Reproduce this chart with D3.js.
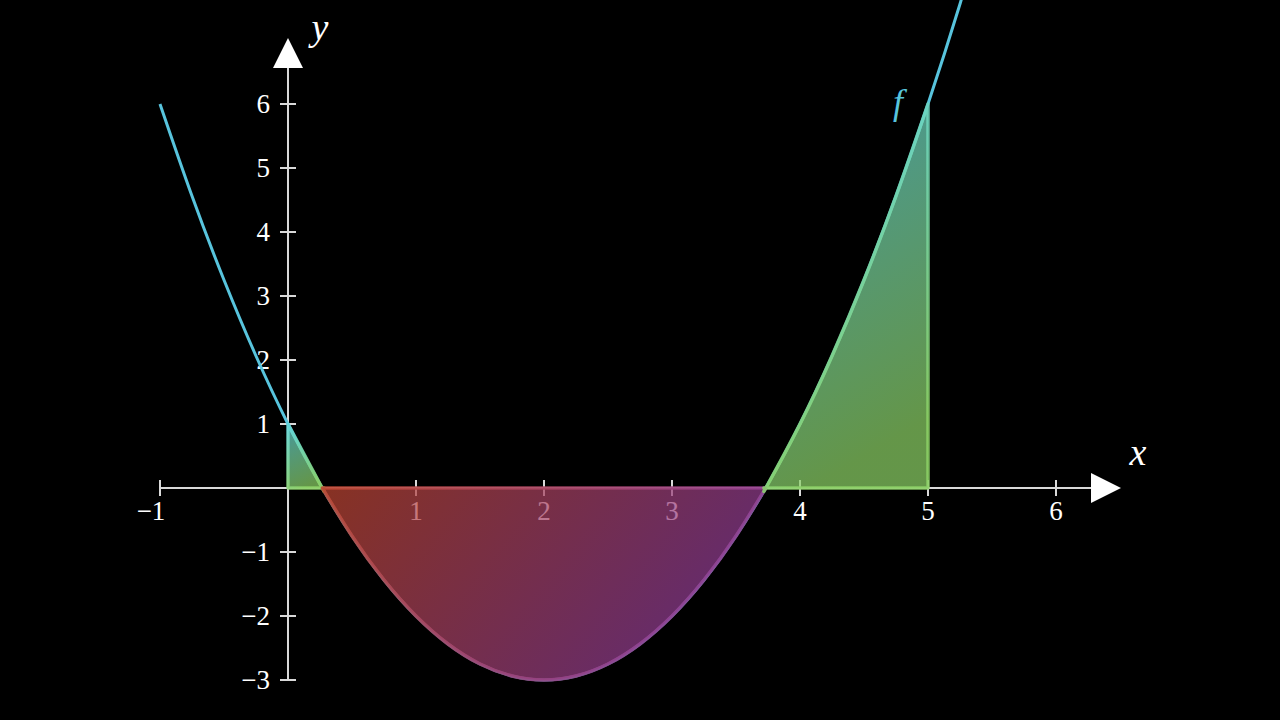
<!DOCTYPE html>
<html>
<head>
<meta charset="utf-8">
<script src="https://cdn.jsdelivr.net/npm/d3@7"></script>
<style>
  html, body { margin: 0; padding: 0; background: #000; }
  svg { display: block; }
</style>
</head>
<body>
<svg id="chart" width="1280" height="720"></svg>
<script>
// ---- data ----
const curveX = [-1, -0.75, -0.5, -0.25, 0, 0.25, 0.5, 0.75, 1, 1.25, 1.5, 1.75, 2, 2.25, 2.5, 2.75, 3, 3.25, 3.5, 3.75, 4, 4.25, 4.5, 4.75, 5, 5.25, 5.5];
const curveY = [6, 4.5625, 3.25, 2.0625, 1, 0.0625, -0.75, -1.4375, -2, -2.4375, -2.75, -2.9375, -3, -2.9375, -2.75, -2.4375, -2, -1.4375, -0.75, 0.0625, 1, 2.0625, 3.25, 4.5625, 6, 7.5625, 9.25];
const roots = [0.268, 3.732];
const areaRange = [0, 5];
const xTicks = [-1, 1, 2, 3, 4, 5, 6];
const yTicks = [-3, -2, -1, 1, 2, 3, 4, 5, 6];
const xTickLabels = ["\u22121", "1", "2", "3", "4", "5", "6"];
const yTickLabels = ["\u22123", "\u22122", "\u22121", "1", "2", "3", "4", "5", "6"];

const svg = d3.select("#chart");
const x = d3.scaleLinear().domain([-1, 6]).range([160, 1056]);
const y = d3.scaleLinear().domain([-3, 6]).range([680, 104]);

const axisColor = "#d9d9d9";
const font = "'Liberation Serif', 'DejaVu Serif', serif";

// gradients
const defs = svg.append("defs");
function grad(id, stops, x2, y2) {
  const g = defs.append("linearGradient").attr("id", id)
    .attr("x1", 0).attr("y1", 0).attr("x2", x2).attr("y2", y2);
  stops.forEach((c, i) => g.append("stop").attr("offset", i / (stops.length - 1)).attr("stop-color", c));
}
grad("posGrad", ["#62d6dc", "#8bd065"], 0.25, 1);
grad("negGrad", ["#bc4530", "#8c3c98"], 1, 0.35);

// ---- axes ----
const ax = svg.append("g");
ax.append("line").attr("x1", x(-1)).attr("x2", 1092).attr("y1", y(0)).attr("y2", y(0))
  .attr("stroke", axisColor).attr("stroke-width", 2);
ax.append("line").attr("x1", x(0)).attr("x2", x(0)).attr("y1", y(-3)).attr("y2", 67)
  .attr("stroke", axisColor).attr("stroke-width", 2);
ax.append("path").attr("d", `M1121,${y(0)} L1091,${y(0) - 15} L1091,${y(0) + 15} Z`).attr("fill", "#fff");
ax.append("path").attr("d", `M${x(0)},38 L${x(0) - 15},68 L${x(0) + 15},68 Z`).attr("fill", "#fff");

ax.selectAll(".xt").data(xTicks).join("line")
  .attr("x1", d => x(d)).attr("x2", d => x(d)).attr("y1", y(0) - 8).attr("y2", y(0) + 8)
  .attr("stroke", axisColor).attr("stroke-width", 2);
ax.selectAll(".yt").data(yTicks).join("line")
  .attr("y1", d => y(d)).attr("y2", d => y(d)).attr("x1", x(0) - 8).attr("x2", x(0) + 8)
  .attr("stroke", axisColor).attr("stroke-width", 2);

ax.selectAll(".xl").data(xTicks).join("text")
  .attr("x", (d, i) => x(d) + (d < 0 ? -9 : 0)).attr("y", y(0) + 32)
  .attr("text-anchor", "middle").attr("fill", "#fff")
  .style("font-family", font).style("font-size", "27px")
  .text((d, i) => xTickLabels[i]);
ax.selectAll(".yl").data(yTicks).join("text")
  .attr("x", x(0) - 18).attr("y", d => y(d) + 9)
  .attr("text-anchor", "end").attr("fill", "#fff")
  .style("font-family", font).style("font-size", "27px")
  .text((d, i) => yTickLabels[i]);

svg.append("text").attr("x", 320).attr("y", 40).attr("text-anchor", "middle")
  .attr("fill", "#fff").style("font-family", font).style("font-style", "italic").style("font-size", "38px").text("y");
svg.append("text").attr("x", 1138).attr("y", 465).attr("text-anchor", "middle")
  .attr("fill", "#fff").style("font-family", font).style("font-style", "italic").style("font-size", "38px").text("x");

// ---- curve (drawn beneath the areas) ----
const pts = curveX.map((d, i) => ({ x: d, y: curveY[i] }));
const line = d3.line().x(d => x(d.x)).y(d => y(d.y)).curve(d3.curveNatural);
svg.append("path").attr("d", line(pts)).attr("fill", "none")
  .attr("stroke", "#58c4dd").attr("stroke-width", 3);

// ---- areas ----
function piece(a, b) {
  const inner = pts.filter(p => p.x > a && p.x < b);
  const ya = roots.includes(a) ? 0 : curveY[curveX.indexOf(a)];
  const yb = roots.includes(b) ? 0 : curveY[curveX.indexOf(b)];
  return [{ x: a, y: ya }, ...inner, { x: b, y: yb }];
}
const area = d3.area().x(d => x(d.x)).y0(y(0)).y1(d => y(d.y)).curve(d3.curveNatural);
const pieces = [
  { data: piece(areaRange[0], roots[0]), g: "posGrad" },
  { data: piece(roots[0], roots[1]), g: "negGrad" },
  { data: piece(roots[1], areaRange[1]), g: "posGrad" }
];
svg.append("g").selectAll("path").data(pieces).join("path")
  .attr("d", d => area(d.data))
  .attr("fill", d => `url(#${d.g})`).attr("fill-opacity", 0.72)
  .attr("stroke", d => `url(#${d.g})`).attr("stroke-opacity", 0.88).attr("stroke-width", 3.5)
  .attr("stroke-linejoin", "round");

svg.append("text").attr("x", 898).attr("y", 114).attr("text-anchor", "middle")
  .attr("fill", "#58c4dd").style("font-family", font).style("font-style", "italic").style("font-size", "36px").text("f");
</script>
</body>
</html>
